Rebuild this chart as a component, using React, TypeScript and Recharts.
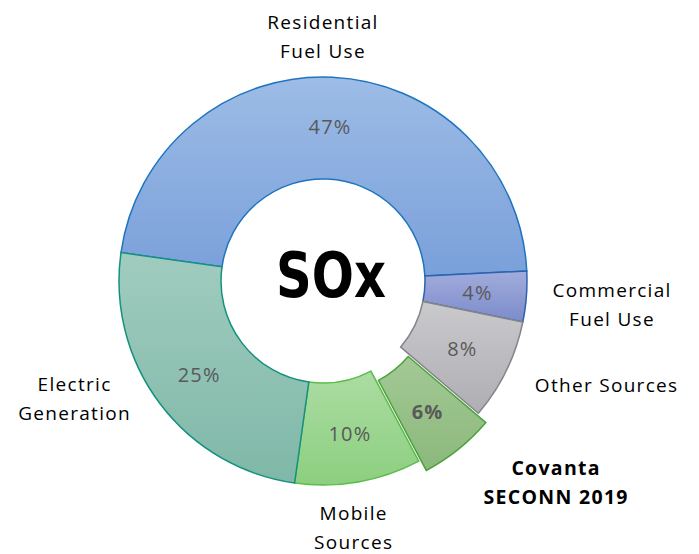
import { PieChart, Pie, Cell, Sector } from 'recharts';

const SOURCES = ['Residential Fuel Use', 'Commercial Fuel Use', 'Other Sources', 'Covanta SECONN 2019', 'Mobile Sources', 'Electric Generation'];
const SHARES = [47, 4, 8, 6, 10, 25];
const NAME_LINES = [
  ['Residential', 'Fuel Use'],
  ['Commercial', 'Fuel Use'],
  ['Other Sources'],
  ['Covanta', 'SECONN 2019'],
  ['Mobile', 'Sources'],
  ['Electric', 'Generation'],
];
const HIGHLIGHT = 'Covanta SECONN 2019';
const TITLE = 'SOx';

const data = SOURCES.map((name, i) => ({ name, value: SHARES[i] }));

// gradient top / bottom + outline per slice
const FILLS = [
  ['#9dbce6', '#7aa0da', '#1f74c0'],
  ['#a2acdc', '#7b8bcb', '#2d62ae'],
  ['#cacacd', '#aeaeb3', '#84848a'],
  ['#a3c995', '#8cb87c', '#4ba43b'],
  ['#acdca3', '#8ccf7f', '#5cbc4c'],
  ['#a0ccbf', '#7fb8a8', '#15917f'],
];

// outside name labels: polar spot (deg, px from centre)
const LABEL_SPOTS = [
  [90, 245],
  [-4.7, 290],
  [-20.1, 302],
  [-40.8, 308],
  [-82.9, 248],
  [-154.6, 275],
];

const CX = 315;
const CY = 273;
const EXPLODE = 12;
const RAD = Math.PI / 180;
const FONT = '"Open Sans", "Noto Sans", sans-serif';

function shift(midAngle: number, d: number) {
  return { dx: d * Math.cos(-midAngle * RAD), dy: d * Math.sin(-midAngle * RAD) };
}

// eslint-disable-next-line @typescript-eslint/no-explicit-any
function SliceShape(props: any) {
  const name = props.payload?.name ?? props.name;
  const { dx, dy } = name === HIGHLIGHT ? shift(props.midAngle, EXPLODE) : { dx: 0, dy: 0 };
  return <Sector {...props} cx={props.cx + dx} cy={props.cy + dy} />;
}

// eslint-disable-next-line @typescript-eslint/no-explicit-any
function SliceLabel(props: any) {
  const { cx, cy, midAngle, innerRadius, outerRadius, index, value } = props;
  const bold = SOURCES[index] === HIGHLIGHT;
  const ex = bold ? shift(midAngle, EXPLODE) : { dx: 0, dy: 0 };
  const r = (innerRadius + outerRadius) / 2 + 2;
  const px = cx + ex.dx + r * Math.cos(-midAngle * RAD);
  const py = cy + ex.dy + r * Math.sin(-midAngle * RAD);
  const [ang, rad] = LABEL_SPOTS[index];
  const lx = cx + rad * Math.cos(-ang * RAD);
  const ly = cy + rad * Math.sin(-ang * RAD);
  const lines: string[] = NAME_LINES[index];
  const lh = 29;
  const top = ly - ((lines.length - 1) * lh) / 2;
  return (
    <g>
      {index === 0 && (
        // condensed heavy title, a bit right of and above the hole centre
        <g transform={`translate(${cx + 8},${cy - 6}) scale(0.8,1)`}>
          <text
            x={0}
            y={0}
            textAnchor="middle"
            dominantBaseline="central"
            fontFamily='"DejaVu Sans", sans-serif'
            fontWeight={700}
            fontSize={62}
            fill="#000"
          >
            {TITLE}
          </text>
        </g>
      )}
      <text
        x={px}
        y={py}
        textAnchor="middle"
        dominantBaseline="central"
        fill="#595959"
        fontFamily={FONT}
        fontSize={20}
        fontWeight={bold ? 700 : 400}
        letterSpacing={1.2}
      >
        {value}%
      </text>
      <text
        textAnchor="middle"
        fill="#000"
        fontFamily={FONT}
        fontSize={bold ? 19.5 : 19}
        fontWeight={bold ? 700 : 400}
        letterSpacing={1.3}
      >
        {lines.map((t, k) => (
          <tspan key={k} x={lx} y={top + k * lh} dominantBaseline="central">
            {t}
          </tspan>
        ))}
      </text>
    </g>
  );
}

export default function App() {
  return (
    <div style={{ width: 691, height: 546, background: '#fff' }}>
      <PieChart width={691} height={546} margin={{ top: 0, right: 0, bottom: 0, left: 0 }}>
        <defs>
          {FILLS.map((f, i) => (
            <linearGradient key={i} id={`slice${i}`} x1="0" y1="0" x2="0" y2="1">
              <stop offset="0%" stopColor={f[0]} />
              <stop offset="100%" stopColor={f[1]} />
            </linearGradient>
          ))}
        </defs>
        <Pie
          data={data}
          dataKey="value"
          nameKey="name"
          cx={CX}
          cy={CY}
          innerRadius={102}
          outerRadius={204}
          startAngle={172}
          endAngle={-188}
          paddingAngle={0}
          shape={SliceShape}
          label={SliceLabel}
          labelLine={false}
          isAnimationActive={false}
        >
          {data.map((d, i) => (
            <Cell key={d.name} fill={`url(#slice${i})`} stroke={FILLS[i][2]} strokeWidth={1.5} />
          ))}
        </Pie>
      </PieChart>
    </div>
  );
}
